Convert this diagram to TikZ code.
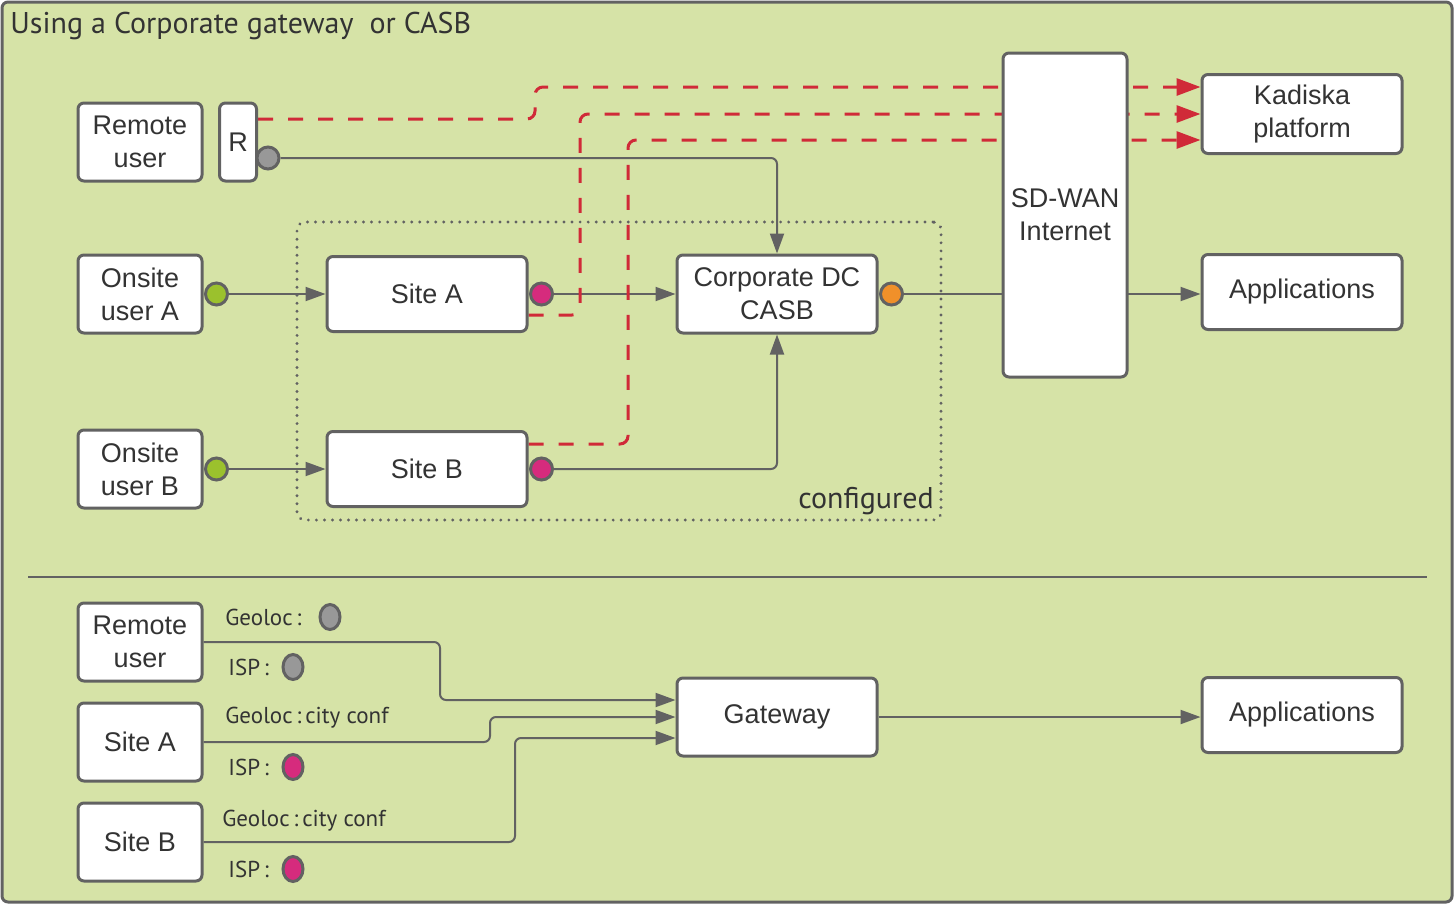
\documentclass[tikz,border=0pt]{standalone}
\usepackage{fontspec}
\setmainfont{Liberation Sans}
\newfontfamily\labelfont{PT Sans}
\usetikzlibrary{arrows.meta,shapes.geometric}

\definecolor{panel}{RGB}{214,227,167}
\definecolor{edge}{RGB}{98,98,98}
\definecolor{ink}{RGB}{51,51,51}
\definecolor{linkred}{RGB}{208,42,56}
\definecolor{ispmag}{RGB}{214,43,125}
\definecolor{usergreen}{RGB}{155,193,45}
\definecolor{dcorange}{RGB}{240,144,42}
\definecolor{geogray}{RGB}{152,152,152}

\pgfdeclarelayer{back}
\pgfdeclarelayer{wires}
\pgfsetlayers{back,wires,main}

\begin{document}
\begin{tikzpicture}[
    x=0.5pt, y=-0.5pt,
    box/.style={rectangle, rounded corners=3pt, draw=edge, line width=1.5pt, fill=white, align=center, inner sep=0pt, text=ink, font=\fontsize{13.5}{16.5}\selectfont},
    small box/.style={box, minimum width=62pt, minimum height=39pt},
    wide box/.style={box, minimum width=100pt, minimum height=37.5pt},
    port/.style={circle, draw=edge, line width=1.5pt, minimum size=11pt, inner sep=0pt},
    geo port/.style={ellipse, draw=edge, line width=1.5pt, minimum width=10pt, minimum height=12.5pt, inner sep=0pt},
    tag/.style={inner sep=0pt, text=ink, font=\labelfont\fontsize{11.5}{13}\selectfont},
    wire/.style={draw=edge, line width=1pt, rounded corners=3pt},
    flow/.style={wire, -{Triangle[length=10pt, width=7pt]}},
    probe/.style={draw=linkred, line width=1.5pt, dash pattern=on 7.5pt off 7.5pt, rounded corners=4pt, -{Triangle[length=12pt, width=8.5pt, fill=linkred]}}
]
\useasboundingbox (0,0) rectangle (1455,905);

% frame
\begin{pgfonlayer}{back}
\draw[draw=edge, line width=1.5pt, fill=panel, rounded corners=3pt] (2,2) rectangle (1452,902);
\end{pgfonlayer}
\node[tag, anchor=west, font=\labelfont\fontsize{15}{17}\selectfont] (title) at (10,26) {Using a Corporate gateway\ \ or CASB};

% upper part
\node[draw=edge, line width=1.6pt, dash pattern=on 0.01pt off 4pt, line cap=round, rounded corners=4pt, minimum width=322pt, minimum height=149pt] (cfg) at (619,371) {};
\node[tag, font=\labelfont\fontsize{15}{17}\selectfont] (cfglabel) at (866,501) {configured};

\node[small box] (remote) at (140,142) {Remote\\user};
\node[box, minimum width=18.5pt, minimum height=39pt] (rbox) at (238,142) {R};
\node[port, fill=geogray] (rport) at (268,158) {};

\node[small box] (onsiteA) at (140,294) {Onsite\\user A};
\node[small box] (onsiteB) at (140,469) {Onsite\\user B};
\node[wide box] (siteA) at (427,294) {Site A};
\node[wide box] (siteB) at (427,469) {Site B};
\foreach \s in {A,B} {
  \node[port, fill=usergreen] (green\s) at (onsite\s.east) [xshift=6.5pt] {};
  \node[port, fill=ispmag] (mag\s) at (site\s.east) [xshift=6.5pt] {};
}
\node[wide box, minimum height=39pt] (corp) at (777,294) {Corporate DC\\CASB};
\node[port, fill=dcorange] (orange) at (corp.east) [xshift=6.5pt] {};

\node[box, minimum width=62pt, minimum height=162pt] (sdwan) at (1065,215) {SD-WAN\\Internet};
\node[wide box, minimum height=39.5pt] (kadiska) at (1302,114) {Kadiska\\platform};
\node[wide box] (apps) at (1302,292) {Applications};

\begin{pgfonlayer}{wires}
\draw[flow] (rport.east) -| (corp.north);
\draw[flow] (greenA.east) -- (siteA.west);
\draw[flow] (greenB.east) -- (siteB.west);
\draw[flow] (magA.east) -- (corp.west);
\draw[flow] (magB.east) -| (corp.south);
\draw[flow] (orange.east) -- (orange.east -| apps.west);
\draw[probe] ([yshift=11.5pt]rbox.east) -| (535,87) -- ([yshift=13.5pt]kadiska.west);
\draw[probe] ([yshift=-10.5pt]siteA.east) -| (580,114) -- (kadiska.west);
\draw[probe] ([yshift=12.5pt]siteB.east) -| (628,140) -- ([yshift=-13pt]kadiska.west);
\end{pgfonlayer}

% separator
\coordinate (sepL) at (28,577);
\coordinate (sepR) at (1427,577);
\draw[draw=edge, line width=1pt] (sepL) -- (sepR);

% lower part
\node[small box] (remote2) at (140,642) {Remote\\user};
\node[small box] (siteA2) at (140,742) {Site A};
\node[small box] (siteB2) at (140,842) {Site B};
\node[wide box, minimum height=39pt] (gateway) at (777,717) {Gateway};
\node[wide box] (apps2) at (1302,715) {Applications};

\node[tag, anchor=west] (geoR) at (225,617) {Geoloc\,:};
\node[geo port, fill=geogray] (geoRdot) at (330,617) {};
\node[tag, anchor=west] (geoA) at (225,718) {Geoloc\,:\,city conf};
\node[tag, anchor=west] (geoB) at (222,821) {Geoloc\,:\,city conf};
\foreach \n/\y/\c in {R/667/geogray, A/767/ispmag, B/869/ispmag} {
  \node[tag, anchor=west] (isp\n) at (228,\y) {ISP\,:};
  \node[geo port, fill=\c] (isp\n dot) at (293,\y) {};
}

\draw[flow] (remote2.east) -- (440,642) |- ([yshift=8.5pt]gateway.west);
\draw[flow] (siteA2.east) -- (490,742) |- (gateway.west);
\draw[flow] (siteB2.east) -- (515,842) |- ([yshift=-10.5pt]gateway.west);
\draw[flow] (gateway.east) -- (gateway.east -| apps2.west);

\end{tikzpicture}
\end{document}
